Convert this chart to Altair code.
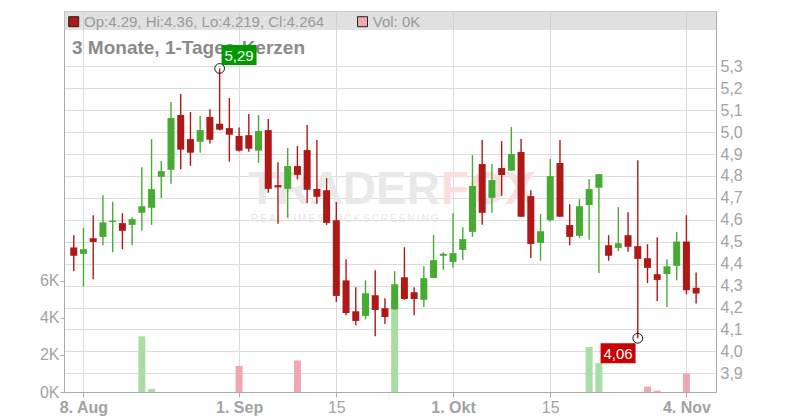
import altair as alt
import pandas as pd

# ---------------- data ----------------
day_index = list(range(65))  # trading days 7 Aug .. 5 Nov
opens = [4.474, 4.445, 4.516, 4.522, 4.590, 4.585, 4.577, 4.632, 4.655, 4.796,
         4.828, 5.078, 4.968, 4.956, 5.069, 5.038, 5.018, 4.982, 4.986, 4.915,
         5.009, 4.758, 4.741, 4.845, 4.918, 4.740, 4.735, 4.598, 4.324, 4.183,
         4.162, 4.256, 4.197, 4.192, 4.338, 4.270, 4.235, 4.335, 4.436, 4.408,
         4.463, 4.545, 4.854, 4.700, 4.836, 4.824, 4.909, 4.708, 4.495, 4.598,
         4.859, 4.576, 4.527, 4.667, 4.746, 4.484, 4.472, 4.530, 4.480, 4.425,
         4.352, 4.353, 4.390, 4.501, 4.29]
highs = [4.530, 4.563, 4.621, 4.712, 4.682, 4.630, 4.612, 4.840, 4.968, 4.868,
         5.137, 5.174, 5.092, 5.073, 5.104, 5.290, 5.155, 5.021, 5.082, 5.078,
         5.060, 4.863, 4.927, 4.936, 5.032, 4.964, 4.790, 4.681, 4.420, 4.292,
         4.324, 4.370, 4.242, 4.366, 4.475, 4.292, 4.388, 4.531, 4.452, 4.630,
         4.566, 4.895, 4.964, 4.854, 4.959, 5.023, 4.968, 4.735, 4.626, 4.877,
         4.964, 4.671, 4.694, 4.786, 4.808, 4.530, 4.658, 4.635, 4.872, 4.489,
         4.521, 4.420, 4.544, 4.621, 4.36]
lows = [4.367, 4.297, 4.329, 4.484, 4.452, 4.466, 4.484, 4.550, 4.577, 4.700,
        4.764, 4.831, 4.846, 4.906, 4.948, 5.008, 4.865, 4.912, 4.910, 4.860,
        4.723, 4.582, 4.609, 4.784, 4.678, 4.673, 4.577, 4.225, 4.165, 4.119,
        4.146, 4.069, 4.125, 4.189, 4.235, 4.165, 4.203, 4.335, 4.372, 4.381,
        4.417, 4.522, 4.577, 4.632, 4.709, 4.824, 4.614, 4.426, 4.413, 4.591,
        4.614, 4.484, 4.518, 4.509, 4.358, 4.413, 4.458, 4.454, 4.060, 4.312,
        4.230, 4.203, 4.324, 4.260, 4.219]
closes = [4.436, 4.466, 4.499, 4.588, 4.596, 4.550, 4.603, 4.662, 4.740, 4.822,
          5.064, 4.920, 4.906, 5.009, 4.965, 5.011, 4.988, 4.915, 4.924, 5.005,
          4.741, 4.748, 4.845, 4.805, 4.737, 4.705, 4.586, 4.253, 4.175, 4.139,
          4.265, 4.189, 4.157, 4.306, 4.239, 4.239, 4.334, 4.416, 4.445, 4.448,
          4.512, 4.754, 4.632, 4.781, 4.804, 4.900, 4.614, 4.490, 4.548, 4.799,
          4.614, 4.522, 4.662, 4.740, 4.808, 4.436, 4.493, 4.477, 4.422, 4.381,
          4.326, 4.388, 4.501, 4.279, 4.264]
volumes = [0, 0, 0, 0, 0, 0, 0, 3000, 160, 0,
           0, 0, 0, 0, 0, 0, 0, 1400, 0, 0,
           0, 0, 0, 1700, 0, 0, 0, 0, 0, 0,
           0, 0, 0, 5000, 0, 0, 0, 0, 0, 0,
           0, 0, 0, 0, 0, 0, 0, 0, 0, 0,
           0, 0, 0, 2430, 1570, 0, 0, 0, 0, 290,
           70, 0, 0, 1000, 0]

tick_idx = [1, 17, 27, 39, 49, 63]
tick_labels = ["8. Aug", "1. Sep", "15", "1. Okt", "15", "4. Nov"]
price_ticks = [3.9, 4.0, 4.1, 4.2, 4.3, 4.4, 4.5, 4.6, 4.7, 4.8, 4.9, 5.0, 5.1, 5.2, 5.3]
vol_ticks = [0, 2000, 4000, 6000]

ann_idx = [15, 58]
ann_price = [5.29, 4.06]
ann_text = ["5,29", "4,06"]

title_text = "3 Monate, 1-Tages-Kerzen"

# ---------------- styling ----------------
W, H = 652, 381
RED, GREEN = "#b01717", "#47ab33"
VRED, VGREEN = "#f0a7af", "#a9dda5"
LABEL = "#a3a3a3"
GRID = "#dcdcdc"
FONT = "Liberation Sans"

df = pd.DataFrame({"i": day_index, "open": opens, "high": highs, "low": lows,
                   "close": closes, "vol": volumes})
up = "datum.close >= datum.open"

x_expr = ""
for v, l in zip(tick_idx, tick_labels):
    x_expr += f"datum.value == {v} ? '{l}' : "
x_expr += "''"
normal_test = " || ".join(f"datum.value == {v}" for v, l in zip(tick_idx, tick_labels) if l.isdigit())

x_axis = alt.Axis(values=tick_idx, labelExpr=x_expr, grid=True, gridColor=GRID,
                  tickSize=5, tickColor="#aaaaaa", domainColor="#aaaaaa",
                  labelFontSize=16, labelColor=LABEL, labelPadding=2, title=None,
                  labelFont=FONT,
                  labelFontWeight={"condition": {"test": normal_test, "value": "normal"},
                                   "value": "bold"})
x_enc = alt.X("i:Q", scale=alt.Scale(domain=[-0.49, 65.53], nice=False, zero=False),
              axis=x_axis)

price_scale = alt.Scale(domain=[3.815, 5.552], nice=False, zero=False)
price_axis = alt.Axis(orient="right", values=price_ticks,
                      labelExpr="replace(format(datum.value, '.1f'), '.', ',')",
                      grid=True, gridColor=GRID, tickSize=0, labelPadding=4,
                      labelFontSize=16, labelColor=LABEL, domainColor="#aaaaaa",
                      title=None, labelFont=FONT)
vol_axis = alt.Axis(orient="left", values=vol_ticks,
                    labelExpr="(datum.value / 1000) + 'K'", grid=False,
                    tickSize=4, tickColor="#aaaaaa", labelPadding=1,
                    labelFontSize=16, labelColor=LABEL, domainColor="#aaaaaa",
                    title=None, labelFont=FONT)

base = alt.Chart(df)
one = pd.DataFrame({"a": [0]})

volume = base.transform_filter("datum.vol > 0").mark_bar(size=7).encode(
    x=x_enc,
    y=alt.Y("vol:Q", scale=alt.Scale(domain=[0, 20540], nice=False), axis=vol_axis),
    color=alt.condition(up, alt.value(VGREEN), alt.value(VRED)),
)

wm1 = alt.Chart(one).mark_text(text="TRADER", align="right", baseline="middle",
                              fontSize=46, fontWeight="bold", color="#e9e9e9",
                              font=FONT).encode(x=alt.value(376), y=alt.value(179))
wm2 = alt.Chart(one).mark_text(text="FOX", align="left", baseline="middle",
                              fontSize=46, fontWeight="bold", color="#fbdede",
                              font=FONT).encode(x=alt.value(377), y=alt.value(179))
wm3 = alt.Chart(one).mark_text(text="R\u2009E\u2009A\u2009L\u2009T\u2009I\u2009M\u2009E  S\u2009T\u2009O\u2009C\u2009K  S\u2009C\u2009R\u2009E\u2009E\u2009N\u2009I\u2009N\u2009G",
                              align="left", baseline="middle", fontSize=10,
                              color="#e6e6e6", font=FONT).encode(x=alt.value(187), y=alt.value(208))

wick = base.mark_rule(strokeWidth=1.4).encode(
    x=x_enc,
    y=alt.Y("low:Q", scale=price_scale, axis=price_axis),
    y2="high:Q",
    color=alt.condition(up, alt.value(GREEN), alt.value(RED)),
)
body = base.mark_bar(size=7).encode(
    x="i:Q",
    y=alt.Y("open:Q", scale=price_scale, axis=price_axis),
    y2="close:Q",
    color=alt.condition(up, alt.value(GREEN), alt.value(RED)),
)

title = alt.Chart(one).mark_text(text=title_text, align="left", baseline="alphabetic",
                                 fontSize=19, fontWeight="bold", color="#8a8a8a",
                                 font=FONT).encode(x=alt.value(8), y=alt.value(43))

ann_layers = []
box_shape = "M-1,-0.571L1,-0.571L1,0.571L-1,0.571Z"
offsets = [(19.4, -13.4), (-19.7, 15.1)]
box_colors = ["#009a00", "#cc0000"]
for k in range(len(ann_idx)):
    adf = pd.DataFrame({"i": [ann_idx[k]], "p": [ann_price[k]], "t": [ann_text[k]]})
    ab = alt.Chart(adf)
    dx, dy = offsets[k]
    ann_layers.append(ab.mark_point(shape="circle", size=95, filled=False, stroke="#111111",
                                    strokeWidth=1, opacity=1).encode(
        x="i:Q", y=alt.Y("p:Q", scale=price_scale, axis=price_axis)))
    ann_layers.append(ab.mark_point(shape=box_shape, size=1225, filled=True,
                                    color=box_colors[k], opacity=1,
                                    xOffset=dx, yOffset=dy).encode(
        x="i:Q", y=alt.Y("p:Q", scale=price_scale, axis=price_axis)))
    ann_layers.append(ab.mark_text(color="white", fontSize=15, font=FONT,
                                   align="center", baseline="middle",
                                   dx=dx, dy=dy + 1).encode(
        x="i:Q", y=alt.Y("p:Q", scale=price_scale, axis=price_axis), text="t:N"))

header = alt.Chart(one).mark_rect(color="#cccccc", opacity=0.58).encode(
    x=alt.value(0), x2=alt.value(W), y=alt.value(0), y2=alt.value(19))
sq1 = alt.Chart(one).mark_point(shape="square", size=100, filled=True, fill=RED,
                                stroke="#222222", strokeWidth=1, opacity=1).encode(
    x=alt.value(9.7), y=alt.value(10.7))
sq2 = alt.Chart(one).mark_point(shape="square", size=100, filled=True, fill=VRED,
                                stroke="#222222", strokeWidth=1, opacity=1).encode(
    x=alt.value(298.5), y=alt.value(10.7))
ohlc_text = f"Op:{opens[-1]}, Hi:{highs[-1]}, Lo:{lows[-1]}, Cl:{closes[-1]}"
vol_text = f"Vol: {volumes[-1] // 1000}K"
ht1 = alt.Chart(one).mark_text(text=ohlc_text, align="left", baseline="middle",
                               fontSize=15, color="#9a9a9a", font=FONT).encode(
    x=alt.value(20), y=alt.value(11))
ht2 = alt.Chart(one).mark_text(text=vol_text, align="left", baseline="middle",
                               fontSize=15, color="#9a9a9a", font=FONT).encode(
    x=alt.value(308.7), y=alt.value(11))

price_group = alt.layer(wm1, wm2, wm3, wick, body, title, *ann_layers,
                        header, sq1, sq2, ht1, ht2)

chart = alt.layer(volume, price_group).resolve_scale(y="independent").properties(
    width=W, height=H,
    autosize=alt.AutoSizeParams(type="none"),
    padding={"left": 56, "top": 3, "right": 76, "bottom": 28},
).configure(font=FONT).configure_view(stroke="#c4c4c4")

chart.save("out.html", embed_options={"renderer": "svg", "actions": False})
